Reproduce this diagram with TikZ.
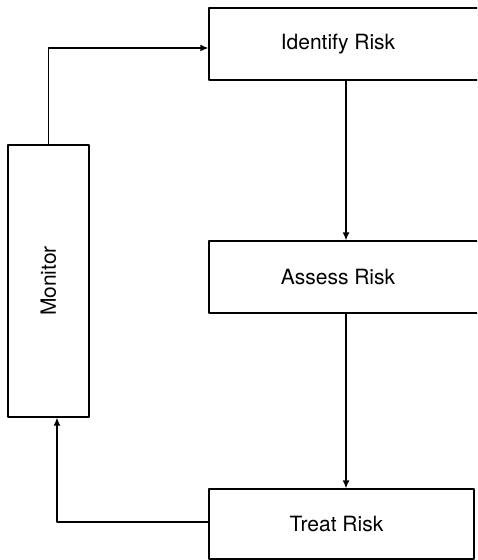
\documentclass[tikz,border=0pt]{standalone}
\usepackage{fontspec}
\setmainfont{TeX Gyre Heros}
\usetikzlibrary{arrows.meta}
\tikzset{riskbox/.style={draw, minimum width=137pt, minimum height=36pt, inner sep=0pt}}
\begin{document}
\begin{tikzpicture}[line join=round, line width=0.65pt, font=\fontsize{10.5}{12}\selectfont, >={Latex[length=4pt,width=3.5pt]}, x=0.5pt, y=-0.5pt]
 \clip (0,0) rectangle (477,560);
 \node[riskbox] (identify) at (346,44) {\hspace*{-8pt}Identify Risk};
 \node[riskbox] (assess) at (346,277) {\hspace*{-8pt}Assess Risk};
 \node[riskbox, minimum width=132.5pt, minimum height=35pt] (treat) at (341.5,524) {\hspace*{-5pt}Treat Risk};
 \node[riskbox, minimum width=40.5pt, minimum height=136pt] (monitor) at (48.5,281) {\rotatebox{90}{Monitor}};
 \draw[->] (identify.south) -- (assess.north);
 \draw[->] (assess.south) -- (assess.south |- treat.north);
 \draw[->] ([yshift=1pt]treat.west) -| ([xshift=4.25pt]monitor.south);
 \draw[->] (monitor.north) |- ([yshift=-2pt]identify.west);
\end{tikzpicture}
\end{document}
